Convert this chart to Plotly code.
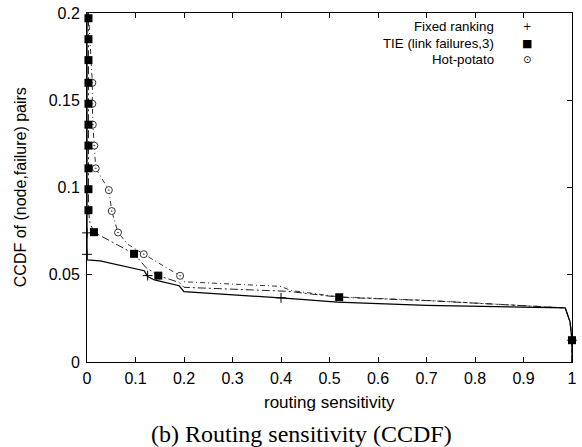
import plotly.graph_objects as go

# ---- data ----
fixed_line_x = [0.0, 0.0, 0.027, 0.088, 0.118, 0.125, 0.139, 0.19, 0.2, 0.428, 0.516, 0.70, 0.986, 0.996, 1.0, 1.0]
fixed_line_y = [0.2, 0.0585, 0.058, 0.054, 0.0523, 0.049, 0.047, 0.0437, 0.0403, 0.0362, 0.0343, 0.0324, 0.031, 0.023, 0.0125, 0.0]
fixed_pts_x = [0.0, 0.0, 0.125, 0.40, 1.0]
fixed_pts_y = [0.074, 0.0617, 0.0495, 0.0368, 0.0125]

tie_line_x = [0.003, 0.003, 0.006, 0.0143, 0.05, 0.097, 0.122, 0.147, 0.19, 0.2, 0.415, 0.52, 0.70, 0.986, 0.996, 1.0, 1.0]
tie_line_y = [0.197, 0.087, 0.080, 0.0744, 0.069, 0.062, 0.054, 0.0495, 0.0456, 0.0428, 0.0405, 0.0371, 0.0352, 0.031, 0.023, 0.0125, 0.0]
tie_pts_x = [0.003, 0.003, 0.003, 0.003, 0.003, 0.003, 0.003, 0.003, 0.003, 0.003, 0.0143, 0.097, 0.147, 0.52, 1.0]
tie_pts_y = [0.197, 0.185, 0.173, 0.160, 0.148, 0.136, 0.124, 0.111, 0.099, 0.087, 0.0744, 0.062, 0.0495, 0.0371, 0.0125]

hot_line_x = [0.003, 0.008, 0.011, 0.011, 0.012, 0.015, 0.018, 0.045, 0.051, 0.064, 0.084, 0.117, 0.192, 0.2, 0.40, 0.42, 0.52, 0.70, 0.986, 0.996, 1.0, 1.0]
hot_line_y = [0.2, 0.17, 0.160, 0.148, 0.136, 0.124, 0.111, 0.0985, 0.0865, 0.0742, 0.0675, 0.0618, 0.0494, 0.046, 0.0433, 0.041, 0.0373, 0.0353, 0.031, 0.023, 0.0125, 0.0]
hot_pts_x = [0.011, 0.011, 0.012, 0.015, 0.018, 0.045, 0.051, 0.064, 0.117, 0.192, 1.0]
hot_pts_y = [0.160, 0.148, 0.136, 0.124, 0.111, 0.0985, 0.0865, 0.0742, 0.0618, 0.0494, 0.0125]

legend_labels = ["Fixed ranking", "TIE (link failures,3)", "Hot-potato"]
legend_symbols = ["+", "\u25A0", "\u2299"]

x_ticks = [0, 0.1, 0.2, 0.3, 0.4, 0.5, 0.6, 0.7, 0.8, 0.9, 1]
x_tick_text = ["0", "0.1", "0.2", "0.3", "0.4", "0.5", "0.6", "0.7", "0.8", "0.9", "1"]
y_ticks = [0, 0.05, 0.1, 0.15, 0.2]
y_tick_text = ["0", "0.05", "0.1", "0.15", "0.2"]

SANS = "Liberation Sans, Arial, sans-serif"

fig = go.Figure()

# lines
fig.add_trace(go.Scatter(x=hot_line_x, y=hot_line_y, mode="lines",
                         line=dict(color="#333", width=1, dash="5px,3px,1px,3px"),
                         cliponaxis=False, showlegend=False))
fig.add_trace(go.Scatter(x=tie_line_x, y=tie_line_y, mode="lines",
                         line=dict(color="#222", width=1, dash="8px,3px,2px,3px"),
                         cliponaxis=False, showlegend=False))
fig.add_trace(go.Scatter(x=fixed_line_x, y=fixed_line_y, mode="lines",
                         line=dict(color="black", width=1.3),
                         cliponaxis=False, showlegend=False))
# points
fig.add_trace(go.Scatter(x=fixed_pts_x, y=fixed_pts_y, mode="markers",
                         marker=dict(symbol="cross-thin", size=7, line=dict(color="black", width=1)),
                         cliponaxis=False, showlegend=False))
fig.add_trace(go.Scatter(x=hot_pts_x, y=hot_pts_y, mode="markers",
                         marker=dict(symbol="circle-dot", size=7, color="white",
                                     line=dict(color="#333", width=1)),
                         cliponaxis=False, showlegend=False))
fig.add_trace(go.Scatter(x=tie_pts_x, y=tie_pts_y, mode="markers",
                         marker=dict(symbol="square", size=8, color="black"),
                         cliponaxis=False, showlegend=False))

# gnuplot-style key: text right-aligned, symbol to the right
key_y = [0.960, 0.912, 0.866]
for lbl, sym, yy, fs in zip(legend_labels, legend_symbols, key_y, [10, 11, 10]):
    fig.add_annotation(x=0.843, y=yy, xref="paper", yref="paper", text=lbl,
                       showarrow=False, xanchor="right", yanchor="middle",
                       font=dict(family=SANS, size=13.3, color="black"))
    fig.add_annotation(x=0.908, y=yy, xref="paper", yref="paper", text=sym,
                       showarrow=False, xanchor="center", yanchor="middle",
                       font=dict(family="DejaVu Sans, sans-serif", size=fs, color="black"))

# axis titles and caption
fig.add_annotation(x=0.5, y=-0.1165, xref="paper", yref="paper",
                   text="routing sensitivity", showarrow=False,
                   xanchor="center", yanchor="middle",
                   font=dict(family=SANS, size=17, color="black"))
fig.add_annotation(x=-0.1367, y=0.5, xref="paper", yref="paper",
                   text="CCDF of (node,failure) pairs", showarrow=False, textangle=-90,
                   xanchor="center", yanchor="middle",
                   font=dict(family=SANS, size=16, color="black"))
fig.add_annotation(x=0.443, y=-0.207, xref="paper", yref="paper",
                   text="(b) Routing sensitivity (CCDF)", showarrow=False,
                   xanchor="center", yanchor="middle",
                   font=dict(family="Liberation Serif, Times New Roman, serif", size=24, color="black"))

axis_common = dict(showgrid=False, zeroline=False, showline=True, linecolor="black",
                   linewidth=1, mirror="allticks", ticks="inside", ticklen=5,
                   tickcolor="black", tickwidth=1, ticklabeloverflow="allow",
                   tickfont=dict(family=SANS, size=16, color="black"))

fig.update_layout(
    width=582, height=447,
    margin=dict(l=87, r=5, t=10, b=85),
    paper_bgcolor="white", plot_bgcolor="white",
    hovermode=False,
    xaxis=dict(range=[0, 1], tickvals=x_ticks, ticktext=x_tick_text,
               ticklabelstandoff=2, **axis_common),
    yaxis=dict(range=[0, 0.2], tickvals=y_ticks, ticktext=y_tick_text,
               ticklabelstandoff=3, **axis_common),
)

fig.write_html("out.html", config={"displayModeBar": False},
               post_script="document.body.style.margin='0';")
